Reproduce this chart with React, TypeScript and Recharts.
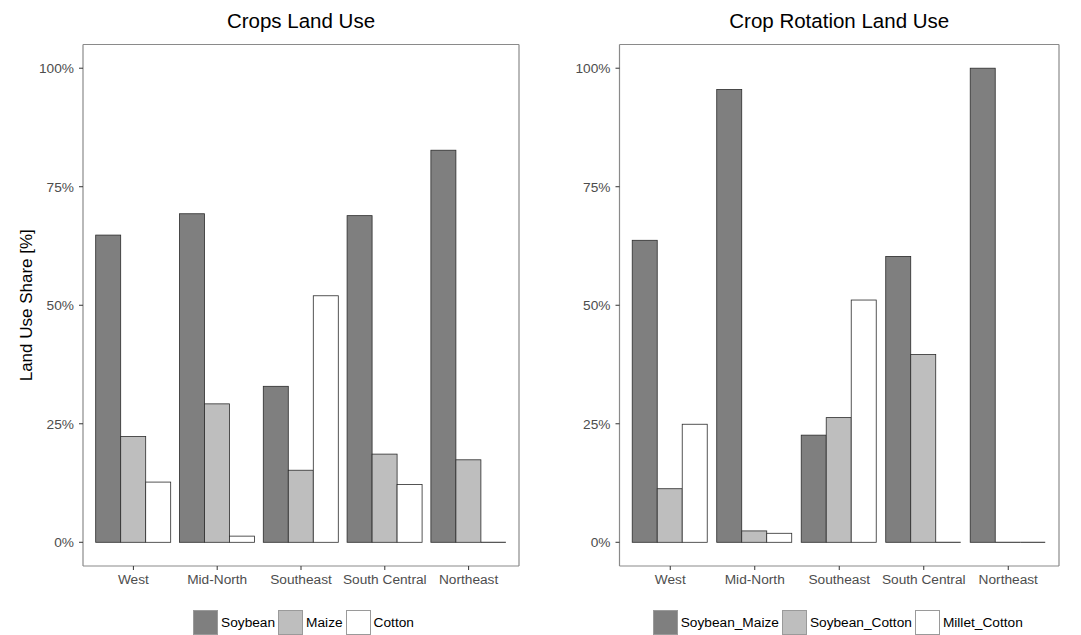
import React from 'react';
import { BarChart, Bar, XAxis, YAxis, Legend } from 'recharts';

// values (shares, 0..1)
const regions = ['West', 'Mid-North', 'Southeast', 'South Central', 'Northeast'];

const soybean = [0.648, 0.693, 0.329, 0.689, 0.827];
const maize = [0.223, 0.292, 0.152, 0.186, 0.174];
const cotton = [0.127, 0.013, 0.52, 0.122, 0];

const soybeanMaize = [0.637, 0.955, 0.226, 0.603, 1.0];
const soybeanCotton = [0.113, 0.024, 0.263, 0.396, 0];
const milletCotton = [0.249, 0.019, 0.511, 0, 0];

const yTicks = [0, 0.25, 0.5, 0.75, 1];

const DARK = '#7f7f7f';
const LIGHT = '#bebebe';
const WHITE = '#ffffff';
const EDGE = '#2b2b2b';
const BORDER = '#8a8a8a';
const FONT = '"Liberation Sans", Arial, Helvetica, sans-serif';

const H = 635;
const PLOT_TOP = 44.5;
const PLOT_BOTTOM = 566;
const X_AXIS_H = 30;

const cropsData = regions.map((region, i) => ({
  region,
  Soybean: soybean[i],
  Maize: maize[i],
  Cotton: cotton[i],
}));

const rotationData = regions.map((region, i) => ({
  region,
  Soybean_Maize: soybeanMaize[i],
  Soybean_Cotton: soybeanCotton[i],
  Millet_Cotton: milletCotton[i],
}));

// ggplot draws zero-height bars as a flat line on the baseline
function BarBox(props: any) {
  const { x, y, width, height, fill } = props;
  if (!height) {
    return <line x1={x} x2={x + width} y1={y} y2={y} stroke={EDGE} strokeWidth={1} />;
  }
  return (
    <rect x={x} y={y} width={width} height={height} fill={fill} stroke={EDGE} strokeWidth={0.8} />
  );
}

interface Series {
  key: string;
  color: string;
}

interface PanelProps {
  title: string;
  data: any[];
  series: Series[];
  left: number;
  width: number;
  plotLeft: number;
  plotRight: number;
  legendShift: number;
  yLabel?: string;
}

function Panel({ title, data, series, left, width, plotLeft, plotRight, legendShift, yLabel }: PanelProps) {
  const plotWidth = width - plotLeft - plotRight;

  const renderLegend = () => (
    <div
      style={{
        display: 'flex',
        justifyContent: 'center',
        alignItems: 'center',
        fontFamily: FONT,
        fontSize: 13.7,
        color: '#000',
        height: 25,
        paddingLeft: legendShift,
      }}
    >
      {series.map(s => (
        <div key={s.key} style={{ display: 'flex', alignItems: 'center', marginRight: 3 }}>
          <div
            style={{
              width: 23,
              height: 23,
              background: s.color,
              border: '1px solid #9a9a9a',
              marginRight: 3,
            }}
          />
          <span>{s.key}</span>
        </div>
      ))}
    </div>
  );

  return (
    <div style={{ position: 'absolute', left, top: 0, width, height: H }}>
      <div
        style={{
          position: 'absolute',
          left: plotLeft,
          width: plotWidth,
          top: 9,
          textAlign: 'center',
          fontFamily: FONT,
          fontSize: 20.5,
          lineHeight: '24px',
          color: '#000',
        }}
      >
        {title}
      </div>
      <BarChart
        width={width}
        height={H}
        data={data}
        margin={{ top: PLOT_TOP - 1, right: plotRight - 1, bottom: H - PLOT_BOTTOM - X_AXIS_H, left: 0 }}
        barCategoryGap="5%"
        barGap={0}
      >
        <XAxis
          dataKey="region"
          height={X_AXIS_H}
          padding={{ left: 8.5, right: 8.5 }}
          axisLine={{ stroke: BORDER, strokeWidth: 1.2 }}
          tickLine={{ stroke: '#333' }}
          tickSize={4}
          tickMargin={4}
          tick={{ fill: '#4d4d4d', fontSize: 13.7, fontFamily: FONT }}
          interval={0}
        />
        {/* top and right edges of the panel border */}
        <XAxis
          xAxisId="top"
          orientation="top"
          dataKey="region"
          height={1}
          tick={false}
          tickLine={false}
          axisLine={{ stroke: BORDER, strokeWidth: 1.2 }}
        />
        <YAxis
          type="number"
          domain={[-0.05, 1.05]}
          allowDataOverflow
          ticks={yTicks}
          tickFormatter={(v: number) => `${Math.round(v * 100)}%`}
          width={plotLeft}
          axisLine={{ stroke: BORDER, strokeWidth: 1.2 }}
          tickLine={{ stroke: '#333' }}
          tickSize={4}
          tickMargin={5}
          tick={{ fill: '#4d4d4d', fontSize: 13.7, fontFamily: FONT }}
          label={
            yLabel
              ? {
                  value: yLabel,
                  angle: -90,
                  position: 'insideLeft',
                  offset: 26,
                  style: { textAnchor: 'middle', fontSize: 17, fill: '#000', fontFamily: FONT },
                }
              : undefined
          }
        />
        <YAxis
          yAxisId="r"
          orientation="right"
          type="number"
          domain={[0, 1]}
          width={1}
          tick={false}
          tickLine={false}
          axisLine={{ stroke: BORDER, strokeWidth: 1.2 }}
        />
        {series.map(s => (
          <Bar
            key={s.key}
            dataKey={s.key}
            fill={s.color}
            shape={BarBox}
            isAnimationActive={false}
          />
        ))}
        <Legend
          layout="vertical"
          align="center"
          verticalAlign="middle"
          wrapperStyle={{ left: plotLeft, top: 610, width: plotWidth }}
          content={renderLegend}
        />
      </BarChart>
    </div>
  );
}

export default function App() {
  return (
    <div
      style={{
        position: 'absolute',
        left: 0,
        top: 0,
        width: 1081,
        height: H,
        background: '#fff',
        overflow: 'hidden',
      }}
    >
      <Panel
        title="Crops Land Use"
        data={cropsData}
        series={[
          { key: 'Soybean', color: DARK },
          { key: 'Maize', color: LIGHT },
          { key: 'Cotton', color: WHITE },
        ]}
        left={0}
        width={540}
        plotLeft={83}
        plotRight={21}
        legendShift={8}
        yLabel="Land Use Share [%]"
      />
      <Panel
        title="Crop Rotation Land Use"
        data={rotationData}
        series={[
          { key: 'Soybean_Maize', color: DARK },
          { key: 'Soybean_Cotton', color: LIGHT },
          { key: 'Millet_Cotton', color: WHITE },
        ]}
        left={540}
        width={541}
        plotLeft={79.5}
        plotRight={22}
        legendShift={0}
      />
    </div>
  );
}
